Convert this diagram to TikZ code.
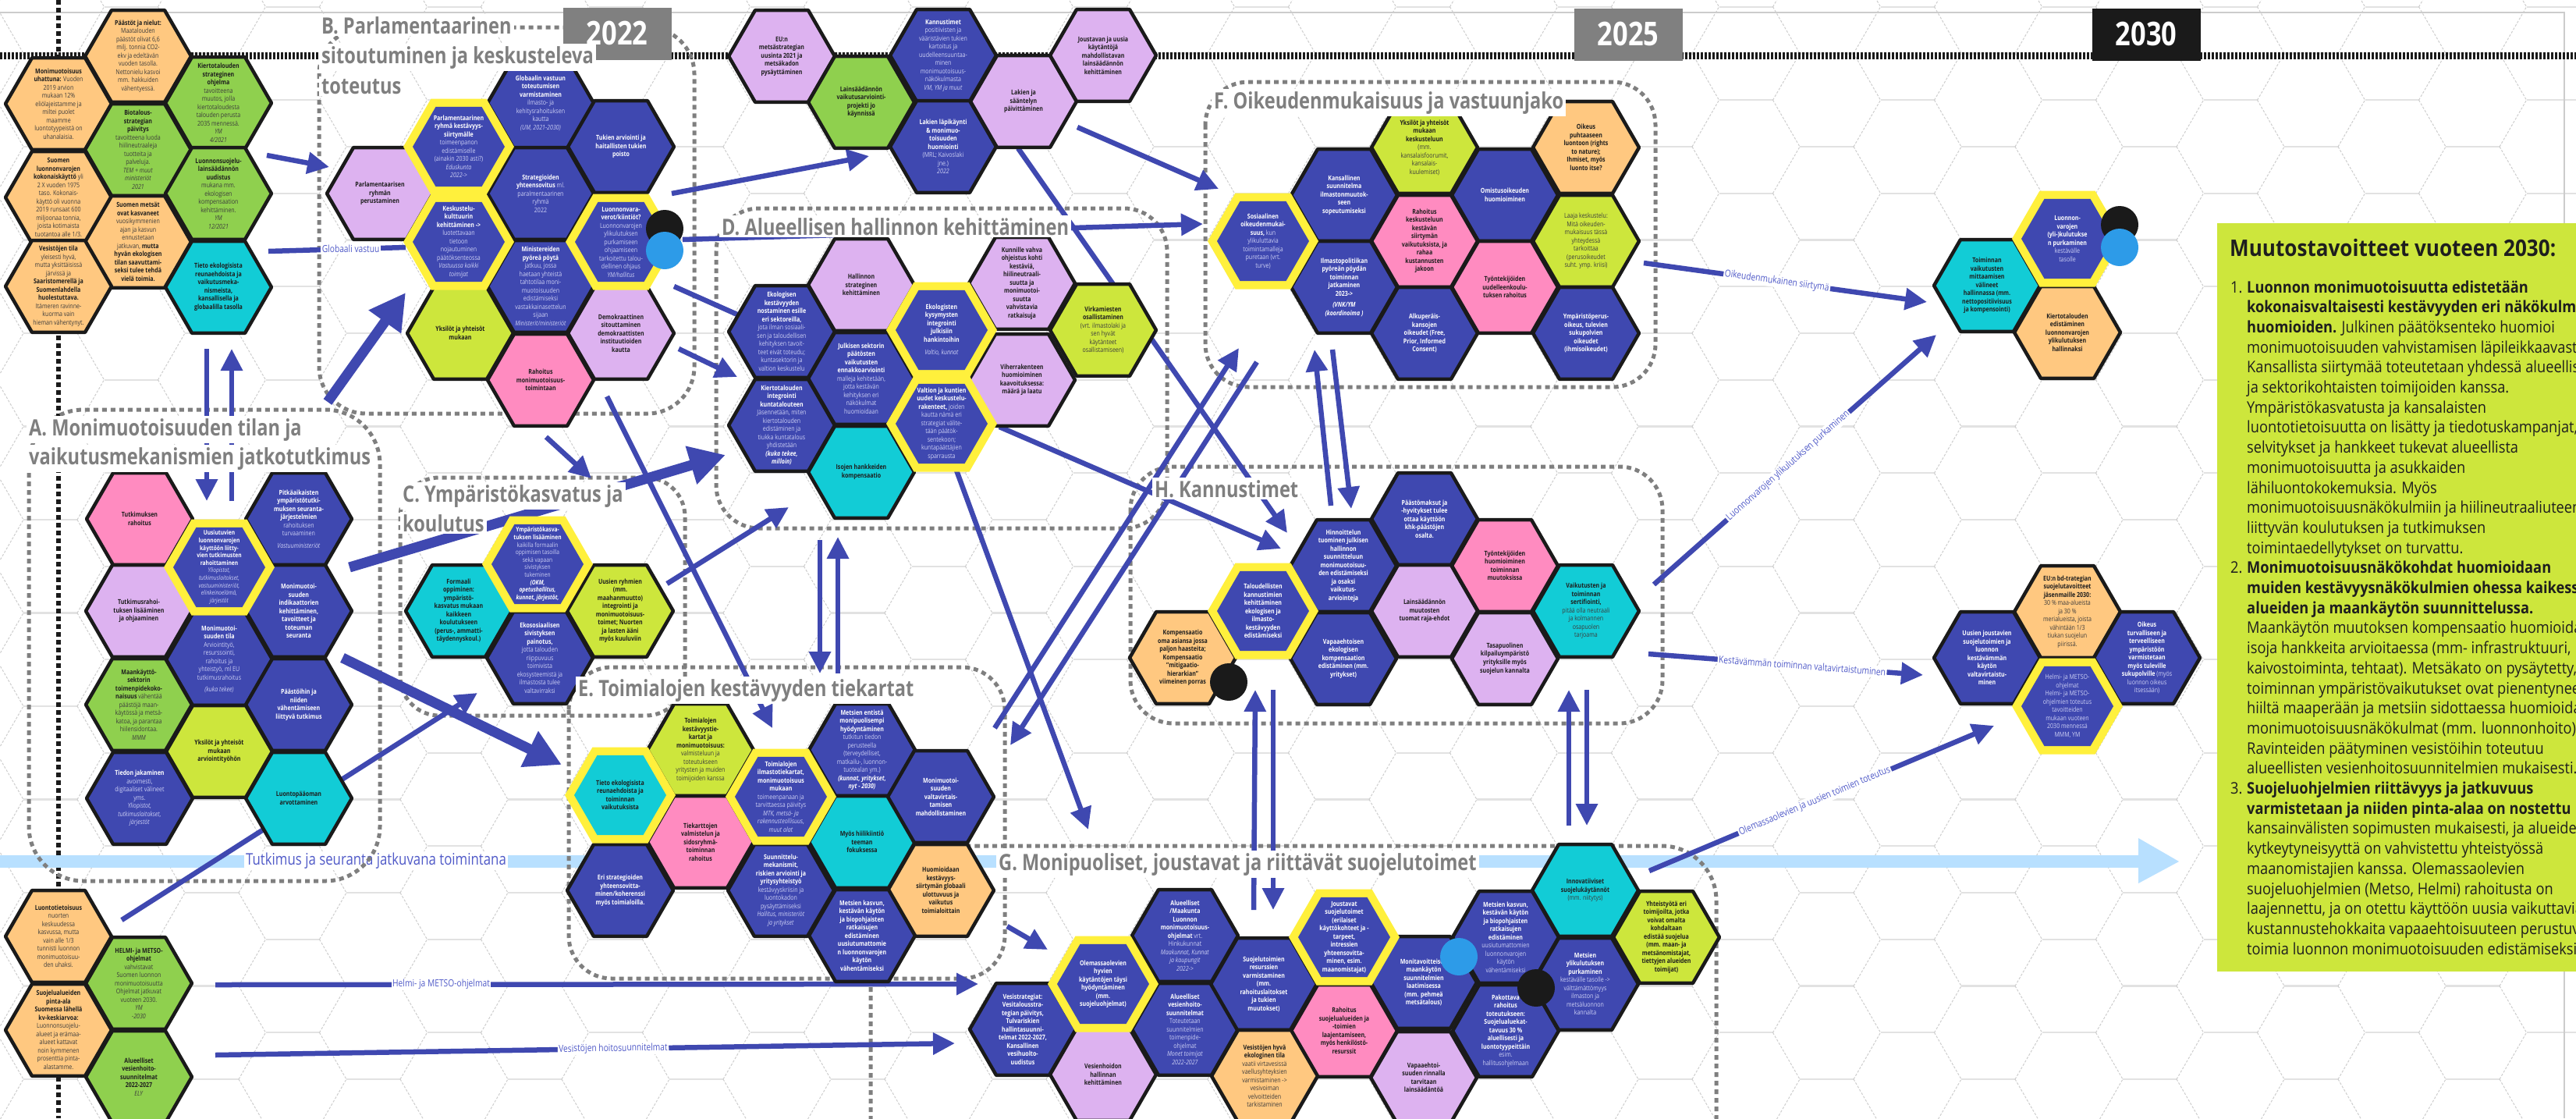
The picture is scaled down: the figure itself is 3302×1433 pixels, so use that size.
\documentclass[tikz,border=0pt]{standalone}
\usepackage{fontspec}
\setmainfont{Open Sans}[FakeStretch=0.82]
\newfontfamily\pfont{Open Sans}[FakeStretch=0.89]
\usetikzlibrary{arrows.meta}
\definecolor{hblue}{RGB}{63,72,176}
\definecolor{hlilac}{RGB}{221,178,240}
\definecolor{hpink}{RGB}{255,139,192}
\definecolor{horange}{RGB}{255,200,128}
\definecolor{hgreen}{RGB}{143,208,78}
\definecolor{hlime}{RGB}{205,230,60}
\definecolor{hcyan}{RGB}{18,204,214}
\definecolor{hyellow}{RGB}{255,240,60}
\definecolor{hline}{RGB}{26,26,26}
\definecolor{lav}{RGB}{205,208,245}
\definecolor{tblack}{RGB}{30,30,30}
\definecolor{tgrayd}{RGB}{60,60,60}
\definecolor{ttitle}{RGB}{127,127,127}
\definecolor{ablue}{RGB}{63,72,176}
\definecolor{alabc}{RGB}{80,90,200}
\definecolor{lbar}{RGB}{184,224,255}
\definecolor{cblue}{RGB}{45,155,232}
\definecolor{gridh}{RGB}{226,226,226}
\definecolor{gridd}{RGB}{205,205,205}
\definecolor{panelc}{RGB}{205,230,60}
\definecolor{ygray}{RGB}{128,128,128}
\colorlet{boldc}{white}
\newcommand{\Bd}[1]{{\bfseries\color{boldc}#1}}
\tikzset{
 htxt/.style={font=\fontsize{8.6}{10.5}\selectfont, align=center, inner sep=0pt},
 tight/.style={font=\fontsize{8.1}{9.6}\selectfont},
 onb/.style={text=lav, execute at begin node={\colorlet{boldc}{white}}},
 onl/.style={text=tgrayd, execute at begin node={\colorlet{boldc}{tblack}}},
 arr/.style={draw=ablue, line width=6.5pt, -{Triangle[length=28pt,width=27pt]}},
 arrT/.style={draw=ablue, line width=13pt, -{Triangle[length=46pt,width=48pt]}},
 arrn/.style={draw=ablue, line width=6.5pt},
 alab/.style={fill=white, text=alabc, inner sep=1.5pt, font=\fontsize{12.5}{14}\selectfont},
 region/.style={draw=ttitle, line width=5pt, dash pattern=on 6pt off 5pt, rounded corners=#1},
 ttl/.style={fill=white, text=ttitle, inner sep=3pt, anchor=base west, font=\fontsize{28.8}{34}\selectfont\bfseries},
 yearbox/.style={text=white, font=\fontsize{42}{42}\selectfont\bfseries, inner sep=0pt}
}
\newcommand{\hexN}[6]{%
 \filldraw[fill=#4, draw=hline, line width=4.5pt, line join=round] (#2-68,#3) -- ++(34,-58.9) -- ++(68,0) -- ++(34,58.9) -- ++(-34,58.9) -- ++(-68,0) -- cycle;
 \node[htxt,#5] (#1) at (#2,#3) {#6};}
\newcommand{\hexY}[6]{%
 \fill[hyellow] (#2-71,#3) -- ++(35.5,-61.5) -- ++(71,0) -- ++(35.5,61.5) -- ++(-35.5,61.5) -- ++(-71,0) -- cycle;
 \fill[#4] (#2-59,#3) -- ++(29.5,-51.1) -- ++(59,0) -- ++(29.5,51.1) -- ++(-29.5,51.1) -- ++(-59,0) -- cycle;
 \node[htxt,#5] (#1) at (#2,#3) {#6};}
\begin{document}
\begin{tikzpicture}[x=1pt,y=-1pt]
\useasboundingbox (0,0) rectangle (3302,1433);
\fill[white] (0,0) rectangle (3302,1433);
% background hex grid
\foreach \k in {-23,...,11}{
 \foreach \m in {-4,...,9}{
  \pgfmathsetmacro{\cx}{2238+103.5*\k}
  \pgfmathsetmacro{\cy}{427+119.5*\m+59.75*mod(abs(\k),2)}
  \draw[gridh, line width=2.4pt] (\cx-34.5,\cy-59.75) -- (\cx+34.5,\cy-59.75);
  \draw[gridd, line width=1pt, dash pattern=on 3pt off 2pt] (\cx-69,\cy) -- (\cx-34.5,\cy-59.75) (\cx-69,\cy) -- (\cx-34.5,\cy+59.75);
 }
}
\draw[gray!40, line width=2.5pt] (0,16) -- (3287,16) -- (3287,1433);
% timeline
\draw[hline, line width=9pt, dash pattern=on 3pt off 2pt] (0,71) -- (3302,71);
\draw[hline, line width=6pt, dash pattern=on 6pt off 4pt] (75,0) -- (75,1433);
% light blue bar
\fill[lbar] (0,1096) rectangle (2741,1112);
\fill[lbar] (2741,1074) -- (2793,1104) -- (2741,1132) -- cycle;
\node[fill=white, text=alabc, inner sep=2pt, font=\fontsize{20.5}{24}\selectfont] (barlab) at (482,1103) {Tutkimus ja seuranta jatkuvana toimintana};
% regions
\draw[region=70pt] (37,525) rectangle (487,1129);
\draw[region=60pt] (409,35) rectangle (890,530);
\draw[region=50pt] (513,612) rectangle (878,917);
\draw[region=55pt] (918,267) rectangle (1496,677);
\draw[region=55pt] (729,855) rectangle (1288,1254);
\draw[region=55pt] (1545,105) rectangle (2122,496);
\draw[region=55pt] (1449,598) rectangle (2131,927);
\draw[region=70pt] (1250,1084) -- (2200,1084) -- (2200,1480);
\draw[region=0pt] (1116,1480) -- (1116,1264) .. controls (1116,1150) and (1150,1084) .. (1250,1084);
% arrow end points
\coordinate (a1s) at (342,199); \coordinate (a1e) at (422,214);
\coordinate (a2s) at (344,322); \coordinate (a2e) at (520,317);
\coordinate (a3s) at (420,515); \coordinate (a3e) at (520,375);
\coordinate (a4s) at (265,447); \coordinate (a4e) at (265,642);
\coordinate (a5s) at (297,642); \coordinate (a5e) at (297,447);
\coordinate (a6s) at (861,248); \coordinate (a6e) at (1114,200);
\coordinate (a7s) at (875,307); \coordinate (a7e) at (1542,287);
\coordinate (a8s) at (864,367); \coordinate (a8e) at (945,403);
\coordinate (a9s) at (870,447); \coordinate (a9e) at (945,483);
\coordinate (a10s) at (700,560); \coordinate (a10e) at (758,613);
\coordinate (a11s) at (778,508); \coordinate (a11e) at (990,933);
\coordinate (a12s) at (448,727); \coordinate (a12e) at (930,583);
\coordinate (a13s) at (156,1179); \coordinate (a13e) at (612,888);
\coordinate (a14s) at (439,843); \coordinate (a14e) at (720,980);
\coordinate (a15s) at (855,748); \coordinate (a15e) at (1011,650);
\coordinate (a16s) at (1051,692); \coordinate (a16e) at (1051,863);
\coordinate (a17s) at (1074,863); \coordinate (a17e) at (1074,688);
\coordinate (a18s) at (1381,163); \coordinate (a18e) at (1562,242);
\coordinate (a19s) at (1305,190); \coordinate (a19e) at (1650,683);
\coordinate (a20s) at (1281,547); \coordinate (a20e) at (1642,703);
\coordinate (a21s) at (1275,933); \coordinate (a21e) at (1588,446);
\coordinate (a22s) at (1611,464); \coordinate (a22e) at (1295,955);
\coordinate (a23s) at (1225,600); \coordinate (a23e) at (1395,1063);
\coordinate (a24s) at (1291,1187); \coordinate (a24e) at (1343,1217);
\coordinate (a25s) at (1706,648); \coordinate (a25e) at (1685,448);
\coordinate (a26s) at (1708,448); \coordinate (a26e) at (1732,652);
\coordinate (a27s) at (1607,1166); \coordinate (a27e) at (1609,884);
\coordinate (a28s) at (1632,884); \coordinate (a28e) at (1632,1166);
\coordinate (a29s) at (2011,1058); \coordinate (a29e) at (2011,884);
\coordinate (a30s) at (2034,884); \coordinate (a30e) at (2034,1058);
\coordinate (a31s) at (2107,337); \coordinate (a31e) at (2470,387);
\coordinate (a32s) at (2120,749); \coordinate (a32e) at (2482,429);
\coordinate (a33s) at (2113,838); \coordinate (a33e) at (2465,865);
\coordinate (a34s) at (2114,1116); \coordinate (a34e) at (2556,930);
\coordinate (a35s) at (276,1262); \coordinate (a35e) at (1254,1261);
\coordinate (a36s) at (276,1352); \coordinate (a36e) at (1224,1337);
% arrows
\draw[arr] (a1s) -- (a1e);
\draw[arrn] (a2s) -- node[alab,pos=0.6] {Globaali vastuu} (a2e);
\draw[arrT] (a3s) -- (a3e);
\draw[arr] (a4s) -- (a4e);
\draw[arr] (a5s) -- (a5e);
\draw[arr] (a6s) -- (a6e);
\draw[arr] (a7s) -- (a7e);
\draw[arrn] (a8s) -- (a8e);
\draw[arr] (a9s) -- (a9e);
\draw[arr] (a10s) -- (a10e);
\draw[arr] (a11s) -- (a11e);
\draw[arrT] (a12s) -- (a12e);
\draw[arr] (a13s) -- (a13e);
\draw[arrT] (a14s) -- (a14e);
\draw[arr] (a15s) -- (a15e);
\draw[arr] (a16s) -- (a16e);
\draw[arr] (a17s) -- (a17e);
\draw[arr] (a18s) -- (a18e);
\draw[arr] (a19s) -- (a19e);
\draw[arr] (a20s) -- (a20e);
\draw[arr] (a21s) -- (a21e);
\draw[arr] (a22s) -- (a22e);
\draw[arr] (a23s) -- (a23e);
\draw[arr] (a24s) -- (a24e);
\draw[arr] (a25s) -- (a25e);
\draw[arr] (a26s) -- (a26e);
\draw[arr] (a27s) -- (a27e);
\draw[arr] (a28s) -- (a28e);
\draw[arr] (a29s) -- (a29e);
\draw[arr] (a30s) -- (a30e);
\draw[arr] (a31s) -- node[alab,sloped,pos=0.47] {Oikeudenmukainen siirtymä} (a31e);
\draw[arr] (a32s) -- node[alab,sloped,pos=0.475] {Luonnonvarojen ylikulutuksen purkaminen} (a32e);
\draw[arr] (a33s) -- node[alab,sloped,pos=0.56] {Kestävämmän toiminnan valtavirtaistuminen} (a33e);
\draw[arr] (a34s) -- node[alab,sloped,pos=0.48] {Olemassaolevien ja uusien toimien toteutus} (a34e);
\draw[arr] (a35s) -- node[alab,pos=0.296] {Helmi- ja METSO-ohjelmat} (a35e);
\draw[arr] (a36s) -- node[alab,sloped,pos=0.538] {Vesistöjen hoitosuunnitelmat} (a36e);
% ---------------- hexes (normal) ----------------
\hexN{Lpaastot}{177}{72}{horange}{onl}{\Bd{Päästöt ja nielut:}\\Maatalouden\\päästöt olivat 6,6\\milj. tonnia CO2-\\ekv ja edeltävän\\vuoden tasolla.\\Nettonielu kasvoi\\mm. hakkuiden\\vähentyessä.}
\hexN{Luhattuna}{75}{133}{horange}{onl}{\Bd{Monimuotoisuus}\\\Bd{uhattuna:} Vuoden\\2019 arvion\\mukaan 12\%\\eliölajeistamme ja\\miltei puolet\\maamme\\luontotyypeistä on\\uhanalaisia.}
\hexN{Lkierto}{280}{132}{hgreen}{onl}{\Bd{Kiertotalouden}\\\Bd{strateginen}\\\Bd{ohjelma}\\tavoitteena\\muutos, jolla\\kiertotaloudesta\\talouden perusta\\2035 mennessä.\\\textit{YM}\\\textit{4/2021}}
\hexN{Lbio}{177}{192}{hgreen}{onl}{\Bd{Biotalous-}\\\Bd{strategian}\\\Bd{päivitys}\\tavoitteena luoda\\hiilineutraaleja\\tuotteita ja\\palveluja.\\\textit{TEM + muut}\\\textit{ministeriöt}\\\textit{2021}}
\hexN{Lkok}{75}{253}{horange}{onl}{\Bd{Suomen}\\\Bd{luonnonvarojen}\\\Bd{kokonaiskäyttö} yli\\2 X vuoden 1975\\taso. Kokonais-\\käyttö oli vuonna\\2019 runsaat 600\\miljoonaa tonnia,\\joista kotimaista\\tuotantoa alle 1/3.}
\hexN{Llsl}{280}{248}{hgreen}{onl}{\Bd{Luonnonsuojelu-}\\\Bd{lainsäädännön}\\\Bd{uudistus}\\mukana mm.\\ekologisen\\kompensaation\\kehittäminen.\\\textit{YM}\\\textit{12/2021}}
\hexN{Lmetsat}{177}{310}{horange}{onl}{\Bd{Suomen metsät}\\\Bd{ovat kasvaneet}\\vuosikymmenien\\ajan ja kasvun\\ennustetaan\\jatkuvan, \Bd{mutta}\\\Bd{hyvän ekologisen}\\\Bd{tilan saavuttami-}\\\Bd{seksi tulee tehdä}\\\Bd{vielä toimia.}}
\hexN{Lvesi}{75}{367}{horange}{onl}{\Bd{Vesistöjen tila}\\yleisesti hyvä,\\mutta yksittäisissä\\järvissä ja\\\Bd{Saaristomerellä ja}\\\Bd{Suomenlahdella}\\\Bd{huolestuttava.}\\Itämeren ravinne-\\kuorma vain\\hieman vähentynyt.}
\hexN{Ltieto}{280}{368}{hcyan}{onl}{\Bd{Tieto ekologisista}\\\Bd{reunaehdoista ja}\\\Bd{vaikutusmeka-}\\\Bd{nismeista,}\\\Bd{kansallisella ja}\\\Bd{globaalilla tasolla}}
\hexN{Bperust}{487}{248}{hlilac}{onl}{\Bd{Parlamentaarisen}\\\Bd{ryhmän}\\\Bd{perustaminen}}
\hexN{Bglob}{693}{132}{hblue}{onb}{\Bd{Globaalin vastuun}\\\Bd{toteutumisen}\\\Bd{varmistaminen}\\ilmasto- ja\\kehitysrahoituksen\\kautta\\\textit{(UM, 2021-2030)}}
\hexN{Btukien}{796}{188}{hblue}{onb}{\Bd{Tukien arviointi ja}\\\Bd{haitallisten tukien}\\\Bd{poisto}}
\hexN{Bstrat}{693}{248}{hblue}{onb}{\Bd{Strategioiden}\\\Bd{yhteensovitus} ml.\\paralmentaarinen\\ryhmä\\2022}
\hexN{Bminist}{693}{367}{hblue}{onb}{\Bd{Ministereiden}\\\Bd{pyöreä pöytä}\\jatkuu, jossa\\haetaan yhteistä\\tahtotilaa moni-\\muotoisuuden\\edistämiseksi\\vastakkainasettelun\\sijaan\\\textit{Ministerit/ministeriöt}}
\hexN{Byks}{590}{427}{hlime}{onl}{\Bd{Yksilöt ja yhteisöt}\\\Bd{mukaan}}
\hexN{Bdemo}{796}{427}{hlilac}{onl}{\Bd{Demokraattinen}\\\Bd{sitouttaminen}\\\Bd{demokraattisten}\\\Bd{instituutioiden}\\\Bd{kautta}}
\hexN{Brah}{693}{487}{hpink}{onl}{\Bd{Rahoitus}\\\Bd{monimuotoisuus-}\\\Bd{toimintaan}}
\hexN{Teu}{1002}{72}{hlilac}{onl}{\Bd{EU:n}\\\Bd{metsästrategian}\\\Bd{uusinta 2021 ja}\\\Bd{metsäkadon}\\\Bd{pysäyttäminen}}
\hexN{Tlains}{1104}{131}{hgreen}{onl}{\Bd{Lainsäädännön}\\\Bd{vaikutusarviointi-}\\\Bd{projekti jo}\\\Bd{käynnissä}}
\hexN{Tkann}{1209}{71}{hblue}{onb}{\Bd{Kannustimet}\\positiivisten ja\\vääristävien tukien\\kartoitus ja\\uudelleensuuntaa-\\minen\\monimuotoisuus-\\näkökulmasta\\\textit{VM, YM ja muut}}
\hexN{Tlakien}{1209}{188}{hblue}{onb}{\Bd{Lakien läpikäynti}\\\Bd{\& monimuo-}\\\Bd{toisuuden}\\\Bd{huomiointi}\\(MRL; Kaivoslaki\\jne.)\\\textit{2022}}
\hexN{Tpaiv}{1312}{130}{hlilac}{onl}{\Bd{Lakien ja}\\\Bd{sääntelyn}\\\Bd{päivittäminen}}
\hexN{Tjoust}{1414}{71}{hlilac}{onl}{\Bd{Joustavan ja uusia}\\\Bd{käytäntöjä}\\\Bd{mahdollistavan}\\\Bd{lainsäädännön}\\\Bd{kehittäminen}}
\hexN{Dekol}{1002}{425}{hblue}{onb}{\Bd{Ekologisen}\\\Bd{kestävyyden}\\\Bd{nostaminen esille}\\\Bd{eri sektoreilla,}\\jota ilman sosiaali-\\sen ja taloudellisen\\kehityksen tavoit-\\teet eivät toteudu;\\kuntasektorin ja\\valtion keskustelu}
\hexN{Dhall}{1104}{365}{hlilac}{onl}{\Bd{Hallinnon}\\\Bd{strateginen}\\\Bd{kehittäminen}}
\hexN{Djulk}{1104}{485}{hblue}{onb}{\Bd{Julkisen sektorin}\\\Bd{päätösten}\\\Bd{vaikutusten}\\\Bd{ennakkoarviointi}\\malleja kehitetään,\\jotta kestävän\\kehityksen eri\\näkökulmat\\huomioidaan}
\hexN{Dkunn}{1310}{363}{hlilac}{onl}{\Bd{Kunnille vahva}\\\Bd{ohjeistus kohti}\\\Bd{kestäviä,}\\\Bd{hiilineutraali-}\\\Bd{suutta ja}\\\Bd{monimuotoi-}\\\Bd{suutta}\\\Bd{vahvistavia}\\\Bd{ratkaisuja}}
\hexN{Dvirk}{1414}{423}{hlime}{onl}{\Bd{Virkamiesten}\\\Bd{osallistaminen}\\(vrt. ilmastolaki ja\\sen hyvät\\käytänteet\\osallistamiseen)}
\hexN{Dviher}{1310}{487}{hlilac}{onl}{\Bd{Viherrakenteen}\\\Bd{huomioiminen}\\\Bd{kaavoituksessa:}\\\Bd{määrä ja laatu}}
\hexN{Dkierto}{1002}{545}{hblue}{onb}{\Bd{Kiertotalouden}\\\Bd{integrointi}\\\Bd{kuntatalouteen}\\Jäsennetään, miten\\kiertotalouden\\edistäminen ja\\tiukka kuntatalous\\yhdistetään\\\Bd{\textit{(kuka tekee,}}\\\Bd{\textit{milloin)}}}
\hexN{Disot}{1104}{605}{hcyan}{onl}{\Bd{Isojen hankkeiden}\\\Bd{kompensaatio}}
\hexN{Fkans}{1723}{250}{hblue}{onb}{\Bd{Kansallinen}\\\Bd{suunnitelma}\\\Bd{ilmastonmuutok-}\\\Bd{seen}\\\Bd{sopeutumiseksi}}
\hexN{Film}{1723}{368}{hblue}{onb}{\Bd{Ilmastopolitiikan}\\\Bd{pyöreän pöydän}\\\Bd{toiminnan}\\\Bd{jatkaminen}\\\Bd{2023->}\\[4pt]\Bd{\textit{(VNK/YM}}\\\Bd{\textit{(koordinoima )}}}
\hexN{Fyks}{1826}{189}{hlime}{onl}{\Bd{Yksilöt ja yhteisöt}\\\Bd{mukaan}\\\Bd{keskusteluun}\\(mm.\\kansalaisfoorumit,\\kansalais-\\kuulemiset)}
\hexN{Frah}{1826}{309}{hpink}{onl}{\Bd{Rahoitus}\\\Bd{keskusteluun}\\\Bd{kestävän}\\\Bd{siirtymän}\\\Bd{vaikutuksista, ja}\\\Bd{rahaa}\\\Bd{kustannusten}\\\Bd{jakoon}}
\hexN{Falk}{1826}{427}{hblue}{onb}{\Bd{Alkuperäis-}\\\Bd{kansojen}\\\Bd{oikeudet (Free,}\\\Bd{Prior, Informed}\\\Bd{Consent)}}
\hexN{Fomist}{1929}{250}{hblue}{onb}{\Bd{Omistusoikeuden}\\\Bd{huomioiminen}}
\hexN{Ftyont}{1929}{368}{hpink}{onl}{\Bd{Työntekijöiden}\\\Bd{uudelleenkoulu-}\\\Bd{tuksen rahoitus}}
\hexN{Foik}{2033}{189}{horange}{onl}{\Bd{Oikeus}\\\Bd{puhtaaseen}\\\Bd{luontoon (rights}\\\Bd{to nature);}\\\Bd{Ihmiset, myös}\\\Bd{luonto itse?}}
\hexN{Flaaja}{2033}{309}{hlime}{onl}{Laaja keskustelu:\\Mitä oikeuden-\\mukaisuus tässä\\yhteydessä\\tarkoittaa\\(perusoikeudet\\suht. ymp. kriisi)}
\hexN{Fymp}{2033}{427}{hblue}{onb}{\Bd{Ympäristöperus-}\\\Bd{oikeus, tulevien}\\\Bd{sukupolvien}\\\Bd{oikeudet}\\\Bd{(ihmisoikeudet)}}
\hexN{Atutk}{179}{665}{hpink}{onl}{\Bd{Tutkimuksen}\\\Bd{rahoitus}}
\hexN{Apitka}{383}{665}{hblue}{onb}{\Bd{Pitkäaikaisten}\\\Bd{ympäristötutki-}\\\Bd{muksen seuranta-}\\\Bd{järjestelmien}\\rahoituksen\\turvaaminen\\[5pt]\textit{Vastuuministeriöt}}
\hexN{Alisaa}{178}{783}{hlilac}{onl}{\Bd{Tutkimusrahoi-}\\\Bd{tuksen lisääminen}\\\Bd{ja  ohjaaminen}}
\hexN{Aindik}{383}{783}{hblue}{onb}{\Bd{Monimuotoi-}\\\Bd{suuden}\\\Bd{indikaattorien}\\\Bd{kehittäminen,}\\\Bd{tavoitteet ja}\\\Bd{toteuman}\\\Bd{seuranta}}
\hexN{Atila}{281}{845}{hblue}{onb}{\Bd{Monimuotoi-}\\\Bd{suuden tila}\\Arviointityö,\\resurssointi,\\rahoitus ja\\yhteistyö, ml EU\\tutkimusrahoitus\\[5pt]\textit{(kuka tekee)}}
\hexN{Amaank}{178}{903}{hgreen}{onl}{\Bd{Maankäyttö-}\\\Bd{sektorin}\\\Bd{toimenpidekoko-}\\\Bd{naisuus} vähentää\\päästöjä maan-\\käytössä ja metsä-\\katoa, ja parantaa\\hiilensidontaa.\\\textit{MMM}}
\hexN{Apaast}{383}{903}{hblue}{onb}{\Bd{Päästöihin ja}\\\Bd{niiden}\\\Bd{vähentämiseen}\\\Bd{liittyvä tutkimus}}
\hexN{Ayks}{281}{963}{hlime}{onl}{\Bd{Yksilöt ja yhteisöt}\\\Bd{mukaan}\\\Bd{arviointityöhön}}
\hexN{Atiedon}{179}{1023}{hblue}{onb}{\Bd{Tiedon jakaminen}\\avoimesti,\\digitaaliset välineet\\yms.\\\textit{Yliopistot,}\\\textit{tutkimuslaitokset,}\\\textit{järjestöt}}
\hexN{Aluontop}{383}{1023}{hcyan}{onl}{\Bd{Luontopääoman}\\\Bd{arvottaminen}}
\hexN{LBnuor}{75}{1200}{horange}{onl}{\Bd{Luontotietoisuus}\\nuorten\\keskuudessa\\kasvussa, mutta\\vain alle 1/3\\tunnisti luonnon\\monimuotoisuu-\\den uhaksi.}
\hexN{LBhelmi}{178}{1260}{hgreen}{onl}{\Bd{HELMI- ja METSO-}\\\Bd{ohjelmat}\\vahvistavat\\Suomen luonnon\\monimuotoisuutta\\Ohjelmat jatkuvat\\vuoteen 2030.\\\textit{YM}\\\textit{-2030}}
\hexN{LBsuoj}{75}{1320}{horange}{onl}{\Bd{Suojelualueiden}\\\Bd{pinta-ala}\\\Bd{Suomessa lähellä}\\\Bd{kv-keskiarvoa:}\\Luonnonsuojelu-\\alueet ja erämaa-\\alueet kattavat\\noin kymmenen\\prosenttia pinta-\\alastamme.}
\hexN{LBvesi}{178}{1380}{hgreen}{onl}{\Bd{Alueelliset}\\\Bd{vesienhoito-}\\\Bd{suunnitelmat}\\\Bd{2022-2027}\\\textit{ELY}}
\hexN{Cform}{588}{783}{hcyan}{onl}{\Bd{Formaali}\\\Bd{oppiminen:}\\\Bd{ympäristö-}\\\Bd{kasvatus mukaan}\\\Bd{kaikkeen}\\\Bd{koulutukseen}\\\Bd{(perus-, ammatti-}\\\Bd{täydennyskoul.)}}
\hexN{Cuusi}{795}{783}{hlime}{onl}{\Bd{Uusien ryhmien}\\\Bd{(mm.}\\\Bd{maahanmuutto)}\\\Bd{integrointi ja}\\\Bd{monimuotoisuus-}\\\Bd{toimet; Nuorten}\\\Bd{ja lasten ääni}\\\Bd{myös kuuluviin}}
\hexN{Cekos}{692}{843}{hblue}{onb}{\Bd{Ekososiaalisen}\\\Bd{sivistyksen}\\\Bd{painotus,}\\jotta talouden\\riippuvuus\\toimivista\\ekosysteemistä ja\\ilmastosta tulee\\valtavirraksi}
\hexN{Etiek}{898}{961}{hlime}{onl}{\Bd{Toimialojen}\\\Bd{kestävyystie-}\\\Bd{kartat ja}\\\Bd{monimuotoisuus:}\\valmisteluun ja\\toteutukseen\\yritysten ja muiden\\toimijoiden kanssa}
\hexN{Emets}{1105}{961}{hblue}{onb}{\Bd{Metsien entistä}\\\Bd{monipuolisempi}\\\Bd{hyödyntäminen}\\tutkitun tiedon\\perusteella\\(terveydelliset,\\matkailu-, luonnon-\\tuotealan ym.)\\\Bd{\textit{(kunnat, yritykset,}}\\\Bd{\textit{nyt - 2030)}}}
\hexN{Erah}{898}{1079}{hpink}{onl}{\Bd{Tiekarttojen}\\\Bd{valmistelun ja}\\\Bd{sidosryhmä-}\\\Bd{toiminnan}\\\Bd{rahoitus}}
\hexN{Ehiili}{1105}{1079}{hcyan}{onl}{\Bd{Myös hiilikiintiö}\\\Bd{teeman}\\\Bd{fokuksessa}}
\hexN{Evalta}{1206}{1021}{hblue}{onb}{\Bd{Monimuotoi-}\\\Bd{suuden}\\\Bd{valtavirtais-}\\\Bd{tamisen}\\\Bd{mahdollistaminen}}
\hexN{Estrat}{795}{1141}{hblue}{onb}{\Bd{Eri strategioiden}\\\Bd{yhteensovitta-}\\\Bd{minen/koherenssi}\\\Bd{myös toimialoilla.}}
\hexN{Esuunn}{1001}{1141}{hblue}{onb}{\Bd{Suunnittelu-}\\\Bd{mekanismit,}\\\Bd{riskien arviointi ja}\\\Bd{yritysyhteistyö}\\kestävyyskriisin ja\\luontokadon\\pysäyttämiseksi\\\textit{Hallitus, ministeriöt}\\\textit{ja yritykset}}
\hexN{Eglob}{1206}{1141}{horange}{onl}{\Bd{Huomioidaan}\\\Bd{kestävyys-}\\\Bd{siirtymän globaali}\\\Bd{ulottuvuus ja}\\\Bd{vaikutus}\\\Bd{toimialoittain}}
\hexN{Ekasvu}{1105}{1199}{hblue}{onb}{\Bd{Metsien kasvun,}\\\Bd{kestävän käytön}\\\Bd{ja biopohjaisten}\\\Bd{ratkaisujen}\\\Bd{edistäminen}\\\Bd{uusiutumattomie}\\\Bd{n luonnonvarojen}\\\Bd{käytön}\\\Bd{vähentämiseksi}}
\hexN{Hkomp}{1516}{843}{horange}{onl}{\Bd{Kompensaatio}\\\Bd{oma asiansa jossa}\\\Bd{paljon haasteita;}\\\Bd{Kompensaatio}\\\Bd{"mitigaatio-}\\\Bd{hierarkian"}\\\Bd{viimeinen porras}}
\hexN{Hhinn}{1722}{725}{hblue}{onb}{\Bd{Hinnoittelun}\\\Bd{tuominen julkisen}\\\Bd{hallinnon}\\\Bd{suunnitteluun}\\\Bd{monimuotoisuu-}\\\Bd{den edistämiseksi}\\\Bd{ja osaksi}\\\Bd{vaikutus-}\\\Bd{arviointeja}}
\hexN{Hvapaa}{1722}{844}{hblue}{onb}{\Bd{Vapaaehtoisen}\\\Bd{ekologisen}\\\Bd{kompensaation}\\\Bd{edistäminen (mm.}\\\Bd{yritykset)}}
\hexN{Hpaast}{1826}{665}{hblue}{onb}{\Bd{Päästömaksut ja}\\\Bd{-hyvitykset tulee}\\\Bd{ottaa käyttöön}\\\Bd{khk-päästöjen}\\\Bd{osalta.}}
\hexN{Hlains}{1826}{783}{hlilac}{onl}{\Bd{Lainsäädännön}\\\Bd{muutosten}\\\Bd{tuomat raja-ehdot}}
\hexN{Htyont}{1929}{725}{hpink}{onl}{\Bd{Työntekijöiden}\\\Bd{huomioiminen}\\\Bd{toiminnan}\\\Bd{muutoksissa}}
\hexN{Htasa}{1929}{844}{hlilac}{onl}{\Bd{Tasapuolinen}\\\Bd{kilpailuympäristö}\\\Bd{yrityksille myös}\\\Bd{suojelun kannalta}}
\hexN{Hsert}{2033}{783}{hcyan}{onl}{\Bd{Vaikutusten ja}\\\Bd{toiminnan}\\\Bd{sertifiointi,}\\pitää olla neutraali\\ja kolmannen\\osapuolen\\tarjoama}
\hexN{Galue}{1519}{1199}{hblue}{onb}{\Bd{Alueelliset}\\\Bd{/Maakunta}\\\Bd{Luonnon}\\\Bd{monimuotoisuus-}\\\Bd{ohjelmat} vrt.\\Hinkukunnat\\\textit{Maakunnat, Kunnat}\\\textit{ja kaupungit}\\\textit{2022->}}
\hexN{Gvesis}{1311}{1319}{hblue}{onb}{\Bd{Vesistrategiat:}\\\Bd{Vesitalousstra-}\\\Bd{tegian päivitys,}\\\Bd{Tulvariskien}\\\Bd{hallintasuunni-}\\\Bd{telmat 2022-2027,}\\\Bd{Kansallinen}\\\Bd{vesihuolto-}\\\Bd{uudistus}}
\hexN{Gavesi}{1519}{1319}{hblue}{onb}{\Bd{Alueelliset}\\\Bd{vesienhoito-}\\\Bd{suunnitelmat}\\Toteutetaan\\suunnitelmien\\toimenpide-\\ohjelmat\\\textit{Monet toimijat}\\\textit{2022-2027}}
\hexN{Gvhall}{1414}{1377}{hlilac}{onl}{\Bd{Vesienhoidon}\\\Bd{hallinnan}\\\Bd{kehittäminen}}
\hexN{Gres}{1620}{1261}{hblue}{onb}{\Bd{Suojelutoimien}\\\Bd{resurssien}\\\Bd{varmistaminen}\\\Bd{(mm.}\\\Bd{rahoituslaitokset}\\\Bd{ja tukien}\\\Bd{muutokset)}}
\hexN{Grahs}{1723}{1321}{hpink}{onl}{\Bd{Rahoitus}\\\Bd{suojelualueiden ja}\\\Bd{-toimien}\\\Bd{laajentamiseen,}\\\Bd{myös henkilöstö-}\\\Bd{resurssit}}
\hexN{Gvhyva}{1621}{1379}{horange}{onl}{\Bd{Vesistöjen hyvä}\\\Bd{ekologinen tila}\\vaatii virtavesissä\\vaellusyhteyksien\\varmistaminen ->\\vesivoiman\\velvoitteiden\\tarkistaminen}
\hexN{Gmonit}{1825}{1259}{hblue}{onb}{\Bd{Monitavoitteisen}\\\Bd{maankäytön}\\\Bd{suunnitelmien}\\\Bd{laatimisessa}\\\Bd{(mm. pehmeä}\\\Bd{metsätalous)}}
\hexN{Gvapaa}{1825}{1381}{hlilac}{onl}{\Bd{Vapaaehtoi-}\\\Bd{suuden rinnalla}\\\Bd{tarvitaan}\\\Bd{lainsäädäntöä}}
\hexN{Gmkasvu}{1930}{1201}{hblue}{onb}{\Bd{Metsien kasvun,}\\\Bd{kestävän käytön}\\\Bd{ja biopohjaisten}\\\Bd{ratkaisujen}\\\Bd{edistäminen}\\uusiutumattomien\\luonnonvarojen\\käytön\\vähentämiseksi}
\hexN{Gpakot}{1930}{1321}{hblue}{onb}{\Bd{Pakottava}\\\Bd{rahoitus}\\\Bd{toteutukseen:}\\\Bd{Suojelualuekat-}\\\Bd{tavuus 30 \%}\\\Bd{aluellisesti ja}\\\Bd{luontotyypeittäin}\\esim.\\hallitusohjelmaan}
\hexN{Ginnov}{2032}{1141}{hcyan}{onl}{\Bd{Innovatiiviset}\\\Bd{suojelukäytännöt}\\(mm. niitytys)}
\hexN{Gmylik}{2032}{1261}{hblue}{onb}{\Bd{Metsien}\\\Bd{ylikulutuksen}\\\Bd{purkaminen}\\kestävälle tasolle ->\\välttämättömyys\\ilmaston ja\\metsäluonnon\\kannalta}
\hexN{Gyht}{2136}{1201}{hlime}{onl}{\Bd{Yhteistyötä eri}\\\Bd{toimijoilta, jotka}\\\Bd{voivat omalta}\\\Bd{kohdaltaan}\\\Bd{edistää suojelua}\\\Bd{(mm. maan- ja}\\\Bd{metsänomistajat,}\\\Bd{tiettyjen alueiden}\\\Bd{toimijat)}}
\hexN{Ztoim}{2547}{366}{hcyan}{onl}{\Bd{Toiminnan}\\\Bd{vaikutusten}\\\Bd{mittaamisen}\\\Bd{välineet}\\\Bd{hallinnassa (mm.}\\\Bd{nettopositiivisuus}\\\Bd{ja kompensointi)}}
\hexN{Zkierto}{2650}{426}{horange}{onl}{\Bd{Kiertotalouden}\\\Bd{edistäminen}\\\Bd{luonnonvarojen}\\\Bd{ylikulutuksen}\\\Bd{hallinnaksi}}
\hexN{Zeu}{2650}{784}{horange}{onl}{\Bd{EU:n bd-trategian}\\\Bd{suojelutavoitteet}\\\Bd{jäsenmaille 2030:}\\30 \% maa-alueista\\ja 30 \%\\merialueista, joista\\vähintään 1/3\\tiukan suojelun\\piirissä.}
\hexN{Zuusi}{2547}{843}{hblue}{onb}{\Bd{Uusien joustavien}\\\Bd{suojelutoimien ja}\\\Bd{luonnon}\\\Bd{kestävämmän}\\\Bd{käytön}\\\Bd{valtavirtaistu-}\\\Bd{minen}}
\hexN{Zoik}{2752}{843}{hblue}{onb}{\Bd{Oikeus}\\\Bd{turvalliseen ja}\\\Bd{terveelliseen}\\\Bd{ympäristöön}\\\Bd{varmistetaan}\\\Bd{myös tuleville}\\\Bd{sukupolville} (myös\\luonnon oikeus\\itsessään)}
% ---------------- hexes (yellow frame) ----------------
\hexY{Bryhma}{588}{188}{hblue}{onb}{\Bd{Parlamentaarinen}\\\Bd{ryhmä kestävyys-}\\\Bd{siirtymälle}\\toimeenpanon\\edistämiselle\\(ainakin 2030 asti?)\\\textit{Eduskunta}\\\textit{2022->}}
\hexY{Bkesk}{588}{310}{hblue}{onb}{\Bd{Keskustelu-}\\\Bd{kulttuurin}\\\Bd{kehittäminen ->}\\luotettavaan\\tietoon\\nojautuminen\\päätöksenteossa\\\textit{Vastuussa kaikki}\\\textit{toimijat}}
\hexY{Bverot}{796}{310}{hblue}{onb}{\Bd{Luonnonvara-}\\\Bd{verot/kiintiöt?}\\Luonnonvarojen\\ylikulutuksen\\purkamiseen\\ohjaamiseen\\tarkoitettu talou-\\dellinen ohjaus\\\textit{YM/hallitus}}
\hexY{Dhank}{1207}{423}{hblue}{onb}{\Bd{Ekologisten}\\\Bd{kysymysten}\\\Bd{integrointi}\\\Bd{julkisiin}\\\Bd{hankintoihin}\\[6pt]\textit{Valtio, kunnat}}
\hexY{Dvalt}{1207}{543}{hblue}{onb}{\Bd{Valtion ja kuntien}\\\Bd{uudet keskustelu-}\\\Bd{rakenteet,} joiden\\kautta nämä eri\\strategiat välite-\\tään päätök-\\sentekoon;\\kuntapäättäjien\\sparrausta}
\hexY{Fsos}{1619}{309}{hblue}{onb}{\Bd{Sosiaalinen}\\\Bd{oikeudenmukai-}\\\Bd{suus,} kun\\ylikuluttavia\\toimintamalleja\\puretaan (vrt.\\turve)}
\hexY{Auusi}{281}{727}{hblue}{onb,tight}{\Bd{Uusiutuvien}\\\Bd{luonnonvarojen}\\\Bd{käyttöön liitty-}\\\Bd{vien tutkimusten}\\\Bd{rahoittaminen}\\\textit{Yliopistot,}\\\textit{tutkimuslaitokset,}\\\textit{vastuuministeriöt,}\\\textit{elinkeinoelämä,}\\\textit{järjestöt}}
\hexY{Cymp}{689}{723}{hblue}{onb,tight}{\Bd{Ympäristökasva-}\\\Bd{tuksen lisääminen}\\kaikilla formaalin\\oppimisen tasoilla\\sekä vapaan\\sivistyksen\\tukeminen\\\Bd{\textit{(OKM,}}\\\Bd{\textit{opetushallitus,}}\\\Bd{\textit{kunnat, järjestöt,}}}
\hexY{Etieto}{795}{1019}{hcyan}{onl}{\Bd{Tieto ekologisista}\\\Bd{reunaehdoista ja}\\\Bd{toiminnan}\\\Bd{vaikutuksista}}
\hexY{Eilm}{1001}{1021}{hblue}{onb}{\Bd{Toimialojen}\\\Bd{ilmastotiekartat,}\\\Bd{monimuotoisuus}\\\Bd{mukaan}\\toimeenpanaan ja\\tarvittaessa päivitys\\\textit{MTK, metsä- ja}\\\textit{rakennusteollisuus,}\\\textit{muut alat}}
\hexY{Htalo}{1619}{783}{hblue}{onb}{\Bd{Taloudellisten}\\\Bd{kannustimien}\\\Bd{kehittäminen}\\\Bd{ekologisen ja}\\\Bd{ilmasto-}\\\Bd{kestävyyden}\\\Bd{edistämiseksi}}
\hexY{Golem}{1414}{1261}{hblue}{onb}{\Bd{Olemassaolevien}\\\Bd{hyvien}\\\Bd{käytäntöjen täysi}\\\Bd{hyödyntäminen}\\\Bd{(mm.}\\\Bd{suojeluohjelmat)}}
\hexY{Gjoust}{1723}{1201}{hblue}{onb}{\Bd{Joustavat}\\\Bd{suojelutoimet}\\\Bd{(erilaiset}\\\Bd{käyttökohteet ja -}\\\Bd{tarpeet,}\\\Bd{intressien}\\\Bd{yhteensovitta-}\\\Bd{minen, esim.}\\\Bd{maanomistajat)}}
\hexY{Zluonn}{2650}{306}{hblue}{onb}{\Bd{Luonnon-}\\\Bd{varojen}\\\Bd{(yli-)kulutukse}\\\Bd{n purkaminen}\\kestävälle\\tasolle}
\hexY{Zhelmi}{2650}{905}{hblue}{onb}{Helmi- ja METSO-\\ohjelmat\\Helmi- ja METSO-\\ohjelmien toteutus\\tavoitteiden\\mukaan vuoteen\\2030 mennessä\\MMM, YM}
% circles
\fill[hline] (852,293) circle[radius=24];
\fill[cblue] (852,321) circle[radius=24];
\fill[hline] (1575,874) circle[radius=24];
\fill[cblue] (1870,1226) circle[radius=24];
\fill[hline] (1969,1266) circle[radius=24];
\fill[hline] (2717,288) circle[radius=24];
\fill[cblue] (2717,317) circle[radius=24];
% year boxes
\fill[ygray] (722,10) rectangle (861,77);
\node[yearbox] (y2022) at (791,42) {2022};
\fill[ygray] (2018,11) rectangle (2157,78);
\node[yearbox] (y2025) at (2087,43) {2025};
\fill[hline] (2682,11) rectangle (2821,78);
\node[yearbox] (y2030) at (2751,43) {2030};
% titles
\node[ttl] (tB1) at (409,43) {B. Parlamentaarinen};
\node[ttl] (tB2) at (409,81) {sitoutuminen ja keskusteleva};
\node[ttl] (tB3) at (409,120) {toteutus};
\node[ttl] (tA1) at (34,558) {A. Monimuotoisuuden tilan ja};
\node[ttl] (tA2) at (34,595) {vaikutusmekanismien jatkotutkimus};
\node[ttl] (tC1) at (513,643) {C. Ympäristökasvatus ja};
\node[ttl] (tC2) at (513,681) {koulutus};
\node[ttl] (tD) at (922,301) {D. Alueellisen hallinnon kehittäminen};
\node[ttl] (tE) at (738,892) {E. Toimialojen kestävyyden tiekartat};
\node[ttl] (tF) at (1553,139) {F. Oikeudenmukaisuus ja vastuunjako};
\node[ttl] (tG) at (1277,1115) {G. Monipuoliset, joustavat ja riittävät suojelutoimet};
\node[ttl] (tH) at (1477,637) {H. Kannustimet};
% panel
\fill[panelc] (2842,286) rectangle (3310,1245);
\node[anchor=base west, inner sep=0pt, text=tblack, font=\pfont\fontsize{29.3}{34}\selectfont\bfseries] (ptitle) at (2858,328) {Muutostavoitteet vuoteen 2030:};
\node[anchor=base west, inner sep=0pt, text=tblack, font=\pfont\fontsize{20.5}{25.7}\selectfont] (plist) at (2859,375) {\begin{tabular}[t]{@{}p{21pt}@{}l@{}}
1.&\textbf{Luonnon monimuotoisuutta edistetään}\\
&\textbf{kokonaisvaltaisesti kestävyyden eri näkökulmat}\\
&\textbf{huomioiden.} Julkinen päätöksenteko huomioi\\
&monimuotoisuuden vahvistamisen läpileikkaavasti.\\
&Kansallista siirtymää toteutetaan yhdessä alueellisten\\
&ja sektorikohtaisten toimijoiden kanssa.\\
&Ympäristökasvatusta ja kansalaisten\\
&luontotietoisuutta on lisätty ja tiedotuskampanjat,\\
&selvitykset ja hankkeet tukevat alueellista\\
&monimuotoisuutta ja asukkaiden\\
&lähiluontokokemuksia. Myös\\
&monimuotoisuusnäkökulmiin ja hiilineutraaliuteen\\
&liittyvän koulutuksen ja tutkimuksen\\
&toimintaedellytykset on turvattu.\\
2.&\textbf{Monimuotoisuusnäkökohdat huomioidaan}\\
&\textbf{muiden kestävyysnäkökulmien ohessa kaikessa}\\
&\textbf{alueiden ja maankäytön suunnittelussa.}\\
&Maankäytön muutoksen kompensaatio huomioidaan\\
&isoja hankkeita arvioitaessa (mm- infrastruktuuri,\\
&kaivostoiminta, tehtaat). Metsäkato on pysäytetty,\\
&toiminnan ympäristövaikutukset ovat pienentyneet,\\
&hiiltä maaperään ja metsiin sidottaessa huomioidaan\\
&monimuotoisuusnäkökulmat (mm. luonnonhoito).\\
&Ravinteiden päätyminen vesistöihin toteutuu\\
&alueellisten vesienhoitosuunnitelmien mukaisesti.\\
3.&\textbf{Suojeluohjelmien riittävyys ja jatkuvuus}\\
&\textbf{varmistetaan ja niiden pinta-alaa on nostettu}\\
&kansainvälisten sopimusten mukaisesti, ja alueiden\\
&kytkeytyneisyyttä on vahvistettu yhteistyössä\\
&maanomistajien kanssa. Olemassaolevien\\
&suojeluohjelmien (Metso, Helmi) rahoitusta on\\
&laajennettu, ja on otettu käyttöön uusia vaikuttavia\\
&kustannustehokkaita vapaaehtoisuuteen perustuvia\\
&toimia luonnon monimuotoisuuden edistämiseksi.
\end{tabular}};
\end{tikzpicture}
\end{document}
